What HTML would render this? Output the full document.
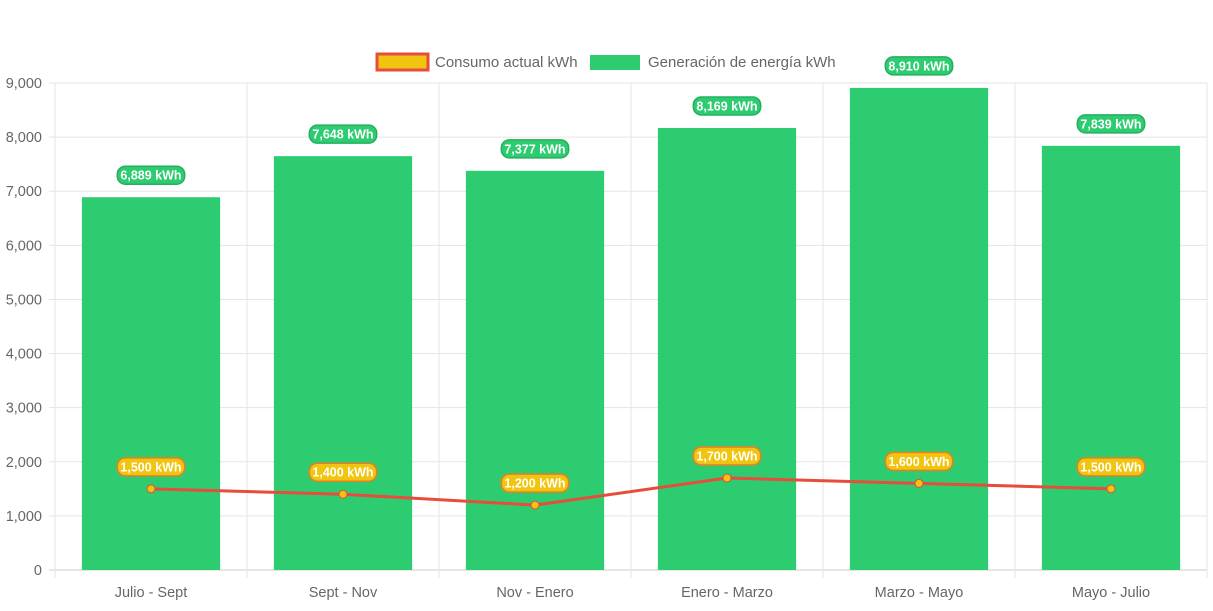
<!DOCTYPE html>
<html><head><meta charset="utf-8"><style>
body{margin:0;background:#fff;font-family:"Liberation Sans",Arial,sans-serif}
svg text{font-family:"Liberation Sans",Arial,sans-serif}
</style></head><body>
<svg id="c" width="1213" height="606"></svg>
<script>
const categories=["Julio - Sept","Sept - Nov","Nov - Enero","Enero - Marzo","Marzo - Mayo","Mayo - Julio"];
const generation=[6889,7648,7377,8169,8910,7839];
const consumption=[1500,1400,1200,1700,1600,1500];
const yTicks=[0,1000,2000,3000,4000,5000,6000,7000,8000,9000];
const L=55,R=1207,T=83,B=570,YMAX=9000;
const svg=document.getElementById('c');
const NS='http://www.w3.org/2000/svg';
function el(t,a,p){const e=document.createElementNS(NS,t);for(const k in a)e.setAttribute(k,a[k]);(p||svg).appendChild(e);return e;}
const y=v=>B-(v/YMAX)*(B-T);
const bw=(R-L)/categories.length;
const x=i=>L+bw*(i+0.5);
const fmt=v=>v.toLocaleString('en-US');
yTicks.forEach(t=>{
 const g=el('line',{x1:L-6,x2:R,y1:y(t),y2:y(t),stroke:t===0?'#ccc':'#e5e5e5','stroke-width':1});
 
 const tx=el('text',{x:L-13,y:y(t)+5,'text-anchor':'end','font-size':14.5,fill:'#666'});tx.textContent=fmt(t);
 
});
for(let i=0;i<=categories.length;i++){
 const g=el('line',{x1:L+bw*i,x2:L+bw*i,y1:T,y2:B+8,stroke:'#e5e5e5','stroke-width':1});
 
}
categories.forEach((c,i)=>{
 const t=el('text',{x:x(i),y:597,'text-anchor':'middle','font-size':14.5,fill:'#666'});t.textContent=c;
 
});
function pill(cx,cy,txt,fill,stroke){
 const g=el('g',{});
 
 const w=txt.length*6.6+8;
 el('rect',{x:cx-w/2,y:cy-9,width:w,height:18,rx:8,fill:fill,stroke:stroke,'stroke-width':1.5},g);
 const t=el('text',{x:cx,y:cy+4.5,'text-anchor':'middle','font-size':12.5,'font-weight':'bold',fill:'#fff'},g);t.textContent=txt;
}
const barW=bw*0.72;
generation.forEach((v,i)=>{
 const r=el('rect',{x:x(i)-barW/2,y:y(v),width:barW,height:B-y(v),fill:'#2ecc71'});
 
});
const pts=consumption.map((v,i)=>x(i)+','+y(v)).join(' ');
const pl=el('polyline',{points:pts,fill:'none',stroke:'#e74c3c','stroke-width':3});

consumption.forEach((v,i)=>{
 const c=el('circle',{cx:x(i),cy:y(v),r:4,fill:'#f1c40f',stroke:'#e74c3c','stroke-width':1});
 
});
generation.forEach((v,i)=>pill(x(i),y(v)-22,fmt(v)+' kWh','#2ecc71','#27ae60'));
consumption.forEach((v,i)=>pill(x(i),y(v)-22,fmt(v)+' kWh','#f1c40f','#e67e22'));
const lg=el('g',{});
const l1=el('g',{},lg);
el('rect',{x:377,y:54,width:51,height:16,fill:'#f1c40f',stroke:'#e74c3c','stroke-width':3},l1);
const t1=el('text',{x:435,y:67,'font-size':15,fill:'#666'},l1);t1.textContent='Consumo actual kWh';
const l2=el('g',{},lg);
el('rect',{x:590,y:55,width:50,height:15,fill:'#2ecc71'},l2);
const t2=el('text',{x:648,y:67,'font-size':15,fill:'#666'},l2);t2.textContent='Generación de energía kWh';
</script>
</body></html>
